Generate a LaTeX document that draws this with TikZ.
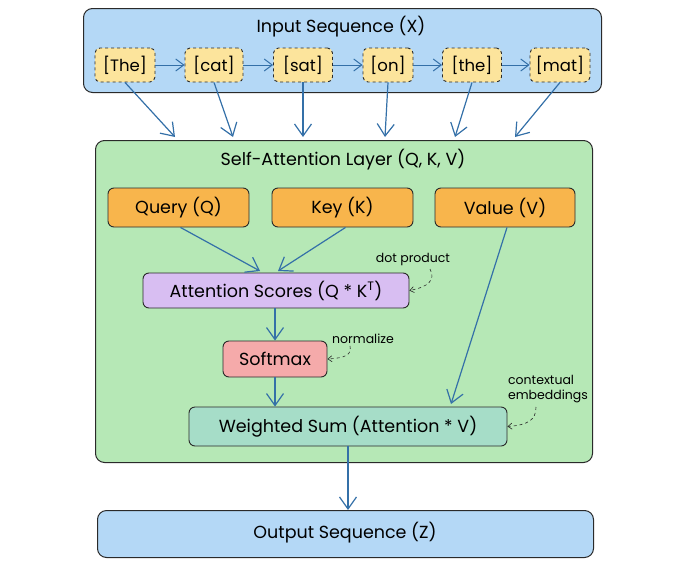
\documentclass[tikz,border=0pt]{standalone}
\usepackage{fontspec}
\setmainfont{Poppins}
\usetikzlibrary{arrows.meta,positioning}
\definecolor{inblue}{HTML}{B4D8F6}
\definecolor{tokyel}{HTML}{FCE49C}
\definecolor{laygreen}{HTML}{B6E8B6}
\definecolor{qkvorange}{HTML}{F8B54C}
\definecolor{attpurple}{HTML}{D8BEF2}
\definecolor{smpink}{HTML}{F5AAAA}
\definecolor{wsteal}{HTML}{A6DDC8}
\definecolor{arrblue}{HTML}{3470A8}
\definecolor{edge}{HTML}{2A2A2A}
\tikzset{
  panel/.style={draw=edge, line width=1pt, rounded corners=9pt},
  box/.style={draw=edge, line width=0.9pt, rounded corners=6pt, inner sep=0pt, font=\fontsize{17.5}{19}\selectfont},
  tok/.style={draw=edge, dashed, line width=0.9pt, fill=tokyel, rounded corners=5pt, inner sep=0pt, minimum height=34pt, font=\fontsize{16.5}{18}\selectfont},
  flow/.style={draw=arrblue, line width=1.2pt, -{Straight Barb[length=12pt,width=17pt,line width=1.2pt]}},
  small/.style={draw=arrblue, line width=1pt, -{Straight Barb[length=8pt,width=12pt]}},
  note/.style={font=\fontsize{12.5}{14.5}\selectfont, align=left, inner sep=1pt},
  notearr/.style={draw=edge, dashed, line width=0.6pt, -{Straight Barb[length=4pt,width=6pt]}},
  ttl/.style={font=\fontsize{17.5}{19}\selectfont, inner sep=0pt}
}
\begin{document}
\begin{tikzpicture}[x=1pt,y=-1pt]
\useasboundingbox (0,0) rectangle (682,565);
% input panel
\node[panel, fill=inblue, minimum width=518pt, minimum height=84pt, anchor=north west] (inp) at (83,8) {};
\node[ttl] (inpt) at (341,27) {Input Sequence (X)};
\node[tok, minimum width=60pt] (t1) at (125,65) {[The]};
\node[tok, minimum width=58pt] (t2) at (214,65) {[cat]};
\node[tok, minimum width=59pt] (t3) at (303,65) {[sat]};
\node[tok, minimum width=50pt] (t4) at (388,65) {[on]};
\node[tok, minimum width=59pt] (t5) at (472,65) {[the]};
\node[tok, minimum width=60pt] (t6) at (560,65) {[mat]};
\draw[small] (t1) -- (t2);
\draw[small] (t2) -- (t3);
\draw[small] (t3) -- (t4);
\draw[small] (t4) -- (t5);
\draw[small] (t5) -- (t6);
% layer panel
\node[panel, fill=laygreen, minimum width=497pt, minimum height=322pt, anchor=north west] (lay) at (95,140) {};
\node[ttl] (layt) at (343,160) {Self-Attention Layer (Q, K, V)};
\coordinate (e1) at (175,137);
\coordinate (e2) at (233,137);
\coordinate (e3) at (303,137);
\coordinate (e4) at (385,137);
\coordinate (e5) at (455,137);
\coordinate (e6) at (515,137);
\draw[flow] (t1.south) -- (e1);
\draw[flow] (t2.south) -- (e2);
\draw[flow] (t3.south) -- (e3);
\draw[flow] (t4.south) -- (e4);
\draw[flow] (t5.south) -- (e5);
\draw[flow] (t6.south) -- (e6);
% Q K V
\node[box, fill=qkvorange, minimum width=141pt, minimum height=39pt] (q) at (178.5,207.5) {Query (Q)};
\node[box, fill=qkvorange, minimum width=141pt, minimum height=39pt] (k) at (342.5,207.5) {Key (K)};
\node[box, fill=qkvorange, minimum width=140pt, minimum height=39pt] (v) at (505,207.5) {Value (V)};
\node[box, fill=attpurple, minimum width=266pt, minimum height=35pt] (att) at (276,290.5) {Attention Scores (Q * K$^{\mathrm{T}}$)};
\node[box, fill=smpink, minimum width=104pt, minimum height=36pt] (sm) at (275,359) {Softmax};
\node[box, fill=wsteal, minimum width=318pt, minimum height=39pt] (ws) at (348,426.5) {Weighted Sum (Attention * V)};
\coordinate (qa) at (260,271);
\coordinate (ka) at (278,271);
\coordinate (va) at (451,404);
\draw[flow] (q.south) ++(2,0) -- (qa);
\draw[flow] (k.south) ++(3,0) -- (ka);
\draw[flow] (v.south) ++(2,0) -- (va);
\draw[flow] (att.south -| sm.north) -- (sm.north);
\draw[flow] (sm.south) -- (ws.north -| sm.south);
% notes
\node[note] (n1) at (413,259) {dot product};
\node[note] (n2) at (363,339) {normalize};
\node[note, align=left] (n3) at (548,389) {contextual\\embeddings};
\draw[notearr] (430,269) .. controls (436,280) and (428,287) .. (att.east);
\draw[notearr] (350,346) .. controls (352,355) and (345,358) .. (sm.east);
\draw[notearr] (536,407) .. controls (536,420) and (528,425) .. (ws.east);
% output
\node[panel, fill=inblue, minimum width=496pt, minimum height=47pt, anchor=north west] (out) at (97,510) {};
\node[ttl] (outt) at (345,533) {Output Sequence (Z)};
\draw[flow] (ws.south) -- (out.north -| ws.south);
\end{tikzpicture}
\end{document}
